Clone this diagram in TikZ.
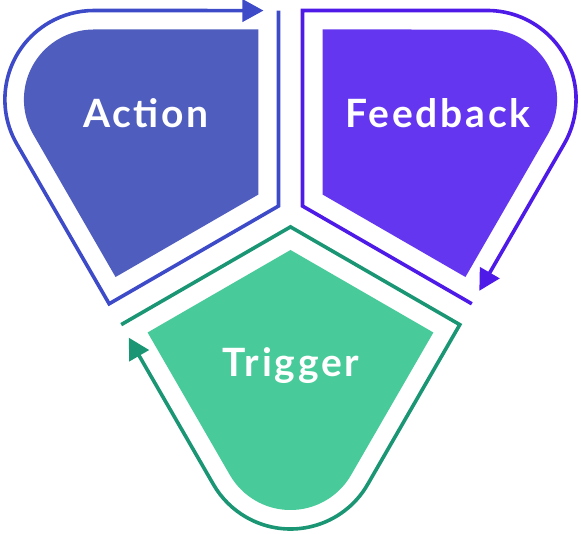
\documentclass[tikz,border=0pt]{standalone}
\usepackage{fontspec}
\usepackage{tikz}
\usetikzlibrary{arrows.meta}
\newfontfamily\labelfont{Lato}[LetterSpace=7]
\definecolor{actionblue}{RGB}{79, 94, 190}
\definecolor{actionline}{RGB}{62, 75, 200}
\definecolor{feedbackpurple}{RGB}{100, 54, 240}
\definecolor{feedbackline}{RGB}{78, 26, 232}
\definecolor{triggergreen}{RGB}{73, 202, 155}
\definecolor{triggerline}{RGB}{26, 150, 116}
\tikzset{
  petal/.style={fill=#1, draw=none},
  looparrow/.style={draw=#1, line width=3.6pt, line join=miter,
              -{Triangle[length=21pt, width=22pt]}},
  petallabel/.style={anchor=base, text=white, inner sep=0pt,
              font=\labelfont\bfseries\fontsize{39}{40}\selectfont},
}

\begin{document}
\begin{tikzpicture}[x=1pt, y=1pt]
  \useasboundingbox (-290.5,-321) rectangle (290.5,213);

  % trigger, pointing down
  \begin{scope}
    \path[petal=triggergreen] (0,-37) -- (142.9,-119.5) -- (60.6,-262)
         arc[start angle=-30, end angle=-150, radius=70] -- (-142.9,-119.5) -- cycle;
    \draw[looparrow=triggerline] (-169.3,-111.65) -- (0,-13.9) -- (169.3,-111.65) -- (77.1,-271.5)
         arc[start angle=-30, end angle=-150, radius=89] -- (-161.8,-124.6);
  \end{scope}

  % feedback, same petal turned to the upper right
  \begin{scope}[rotate=120]
    \path[petal=feedbackpurple] (0,-37) -- (142.9,-119.5) -- (60.6,-262)
         arc[start angle=-30, end angle=-150, radius=70] -- (-142.9,-119.5) -- cycle;
    \draw[looparrow=feedbackline] (-169.3,-111.65) -- (0,-13.9) -- (169.3,-111.65) -- (77.1,-271.5)
         arc[start angle=-30, end angle=-150, radius=89] -- (-161.8,-124.6);
  \end{scope}

  % action, turned to the upper left
  \begin{scope}[rotate=240]
    \path[petal=actionblue] (0,-37) -- (142.9,-119.5) -- (60.6,-262)
         arc[start angle=-30, end angle=-150, radius=70] -- (-142.9,-119.5) -- cycle;
    \draw[looparrow=actionline] (-169.3,-111.65) -- (0,-13.9) -- (169.3,-111.65) -- (77.1,-271.5)
         arc[start angle=-30, end angle=-150, radius=89] -- (-161.8,-124.6);
  \end{scope}

  \node[petallabel] (action) at (-144.5,85) {Action};
  \node[petallabel] (feedback) at (147.5,85) {Feedback};
  \node[petallabel] (trigger) at (0.5,-164) {Trigger};
\end{tikzpicture}
\end{document}
